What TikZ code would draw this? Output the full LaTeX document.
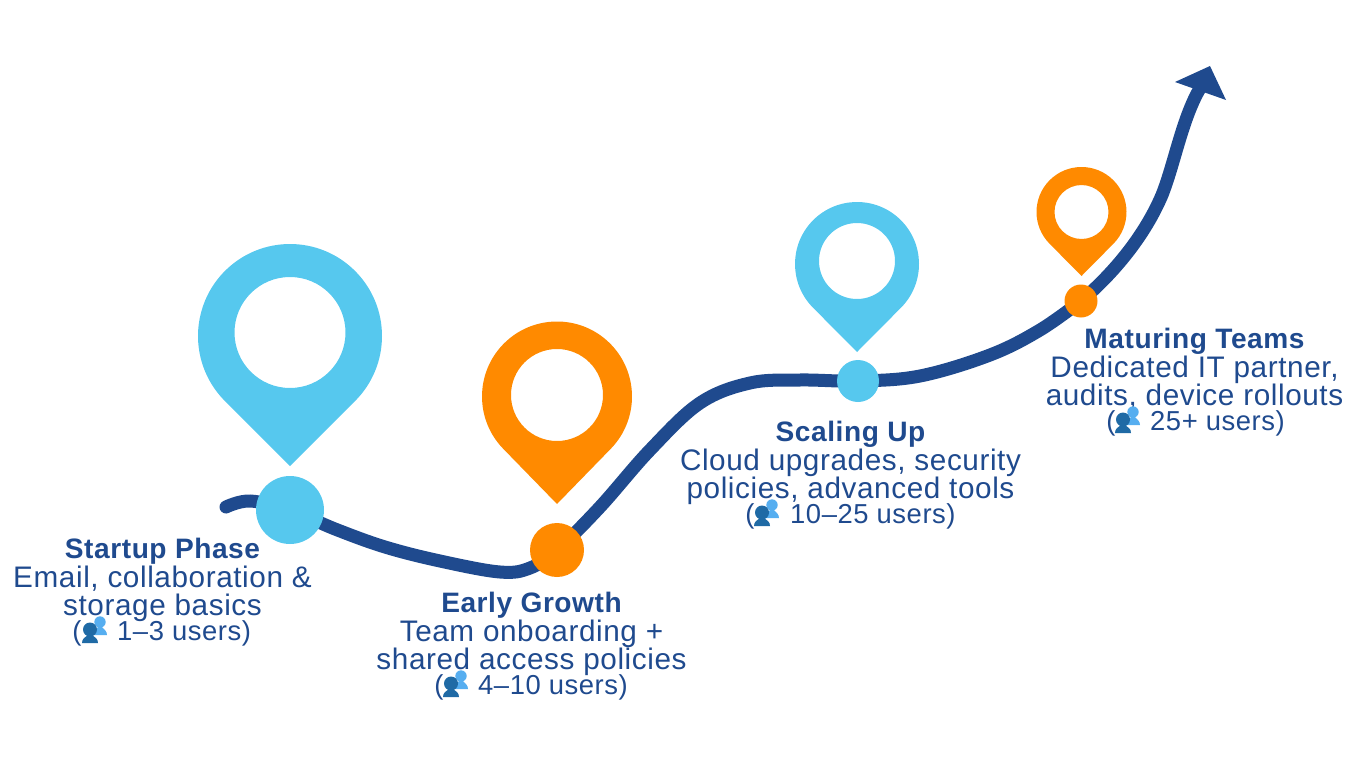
\documentclass[tikz,border=0pt]{standalone}
\usepackage{fontspec}
\setmainfont[LetterSpace=2]{Liberation Sans}
\usetikzlibrary{calc,backgrounds}
\definecolor{navy}{HTML}{1F4A8E}
\definecolor{sky}{HTML}{56C8EE}
\definecolor{amber}{HTML}{FF8A00}
\definecolor{userdark}{HTML}{1F6AA5}
\definecolor{userlight}{HTML}{56AEF0}
\newcommand{\pinshape}[7]{% cx cy R holecy hole tipy color
  \pgfmathsetmacro{\pinalpha}{asin(#3/(#6-#2))}
  \fill[#7,even odd rule] (#1,-#6) -- ($(#1,-#2)+(-\pinalpha:#3)$)
    arc[start angle=-\pinalpha,end angle=180+\pinalpha,radius=#3] -- cycle
    (#1,-#4) circle[radius=#5];
}
\newcommand{\stagetext}[9]{% id cx ybase title l1 l2 parenx textx range
  \node[titletext] (#1t) at (#2,-#3) {#4};
  \node[bodytext] (#1a) at (#2,-#3-29.5) {#5};
  \node[bodytext] (#1b) at (#2,-#3-57) {#6};
  \node[rangetext] (#1p) at (#7,-#3-82) {(};
  \node[rangetext,anchor=base west] (#1r) at (#8,-#3-82) {#9};
}
\tikzset{
  titletext/.style={anchor=base,inner sep=0pt,text=navy,font=\fontsize{28.1}{28}\selectfont\bfseries},
  bodytext/.style={anchor=base,inner sep=0pt,text=navy,font=\fontsize{29.7}{28}\selectfont},
  rangetext/.style={anchor=base,inner sep=0pt,text=navy,font=\fontsize{27.4}{28}\selectfont},
  dotnode/.style={circle,inner sep=0pt,minimum size=#1},
  users/.pic={
    \fill[userlight] (18,-5) circle[radius=5.7];
    \fill[userlight] (11,-18) .. controls (11,-14) and (14,-12.5) .. (16,-10) -- (20,-10) .. controls (22,-12.5) and (25,-14) .. (25,-18) -- cycle;
    \fill[userdark] (8,-12.5) circle[radius=7];
    \fill[userdark] (0,-26) .. controls (0,-21.5) and (3,-20.5) .. (6,-18) -- (10,-18) .. controls (13,-20.5) and (16,-21.5) .. (16,-26) -- cycle;
  }
}
\begin{document}
\begin{tikzpicture}[x=1pt,y=1pt]
\useasboundingbox (0,0) rectangle (1366,-768);
% stage markers
\node[dotnode=68pt,fill=sky] (d1) at (290,-510) {};
\node[dotnode=54pt,fill=amber] (d2) at (557,-550) {};
\node[dotnode=42pt,fill=sky] (d3) at (858,-381) {};
\node[dotnode=33pt,fill=amber] (d4) at (1081,-301) {};
\coordinate (start) at (226,-507);
\coordinate (end) at (1199,-90);
\begin{scope}[on background layer]
\draw[navy,line width=13pt,line cap=round] plot[smooth,tension=0.6] coordinates {
 (start) (250,-501) (d1.center) (335,-529) (385,-547) (440,-561) (500,-572) (530,-568) (d2.center)
 (600,-507) (650,-450) (700,-403) (750,-383) (800,-380) (d3.center) (920,-376) (990,-355)
 (1040,-330) (d4.center)}
 .. controls (1115,-272) and (1145,-235) .. (1162,-195)
 .. controls (1174,-165) and (1182,-120) .. (end);
\end{scope}
\coordinate (tipa) at (1210,-66);
\coordinate (tipb) at (1175,-82);
\coordinate (tipc) at (1226,-100);
\fill[navy] (tipa) -- (tipb) -- (tipc) -- cycle;
% pins
\pinshape{290}{336}{92}{332.5}{55.5}{466}{sky}
\pinshape{557}{396.5}{75}{395}{46}{504}{amber}
\pinshape{857}{264}{62}{261}{38}{352}{sky}
\pinshape{1081.5}{212}{45}{212}{27}{276}{amber}
% texts
\stagetext{s}{162.5}{558}{Startup Phase}{Email, collaboration \&}{storage basics}{77}{117}{1–3 users)}
\stagetext{e}{531.5}{612}{Early Growth}{Team onboarding +}{shared access policies}{439}{478}{4–10 users)}
\stagetext{c}{850.5}{441}{Scaling Up}{Cloud upgrades, security}{policies, advanced tools}{750}{790}{10–25 users)}
\stagetext{m}{1194.5}{348}{Maturing Teams}{Dedicated IT partner,}{audits, device rollouts}{1111}{1150}{25+ users)}
% user icons
\pic at (82,-617) {users};
\pic at (443,-671) {users};
\pic at (754,-500) {users};
\pic at (1115,-407) {users};
\end{tikzpicture}
\end{document}
